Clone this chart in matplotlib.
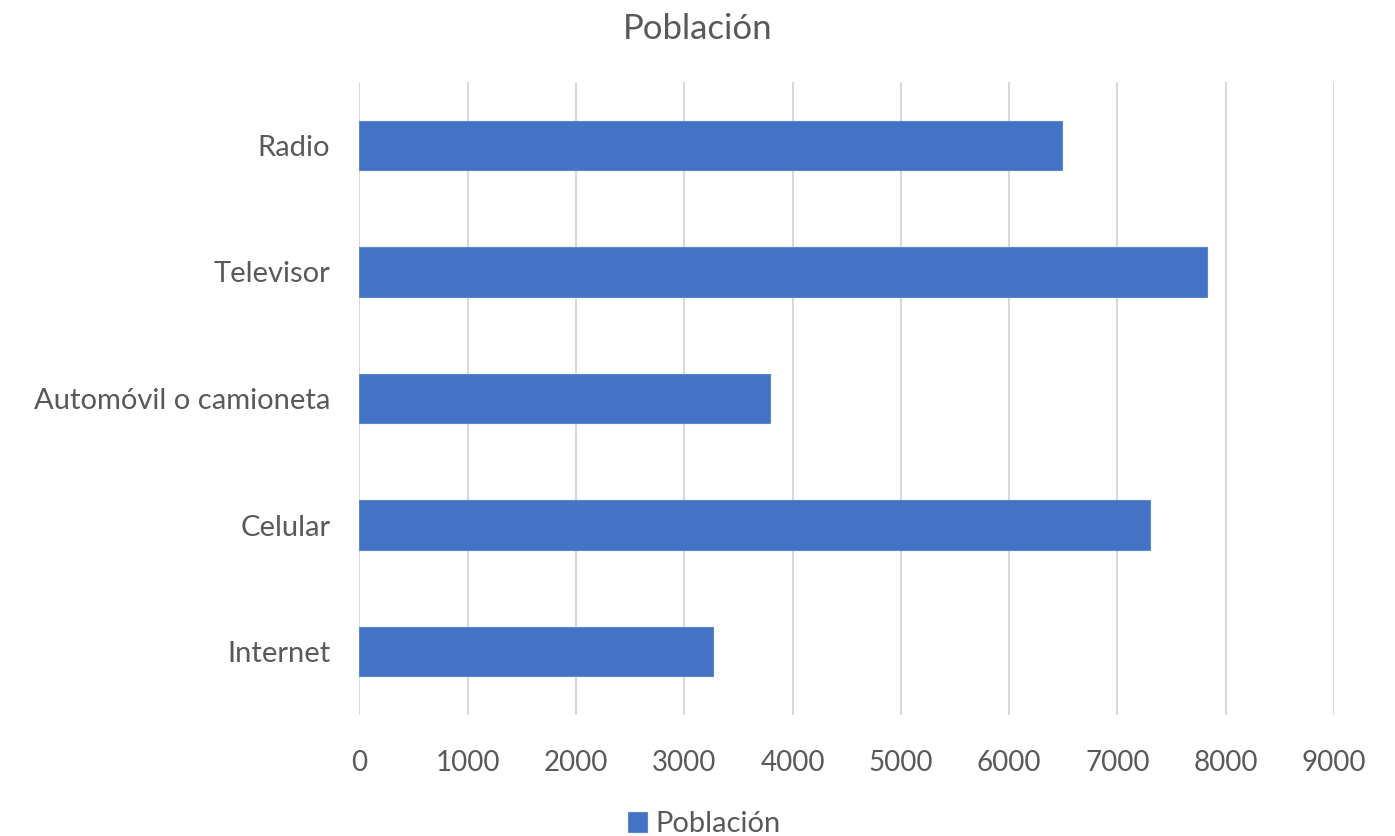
import matplotlib
matplotlib.use("Agg")
import matplotlib.pyplot as plt

categories = ["Radio", "Televisor", "Automóvil o camioneta", "Celular", "Internet"]
poblacion = [6484, 7828, 3787, 7305, 3268]
x_ticks = [0, 1000, 2000, 3000, 4000, 5000, 6000, 7000, 8000, 9000]
series_name = "Población"

plt.rcParams["font.family"] = ["Lato", "DejaVu Sans"]
text_color = "#595959"
bar_color = "#4472C4"
grid_color = "#D9D9D9"

fig = plt.figure(figsize=(13.95, 8.36), dpi=100)
ax = fig.add_axes([0.2577, 0.1447, 0.6986, 0.7572])

ypos = list(range(len(categories)))[::-1]
ax.barh(ypos, poblacion, height=0.39, color=bar_color,
        edgecolor="#5B87D0", linewidth=0.8, zorder=3, label=series_name)

ax.set_xlim(0, 9000)
ax.set_ylim(-0.5, len(categories) - 0.5)
ax.set_xticks(x_ticks)
ax.set_xticklabels([str(t) for t in x_ticks])
ax.set_yticks(ypos)
ax.set_yticklabels(categories)

ax.grid(axis="x", color=grid_color, linewidth=1.5, zorder=0)
for s in ax.spines.values():
    s.set_visible(False)
ax.tick_params(axis="both", length=0, colors=text_color)
ax.tick_params(axis="x", pad=25, labelsize=20)
ax.tick_params(axis="y", pad=21, labelsize=21)

fig.text(0.5, 0.965, "Población", ha="center", va="center",
         fontsize=25, color=text_color)

leg = fig.legend(loc="center", bbox_to_anchor=(0.505, 0.014), frameon=False,
                 fontsize=21, handlelength=0.65, handleheight=0.65,
                 handletextpad=0.3)
for t in leg.get_texts():
    t.set_color(text_color)

fig.savefig("out.png", dpi=100)
